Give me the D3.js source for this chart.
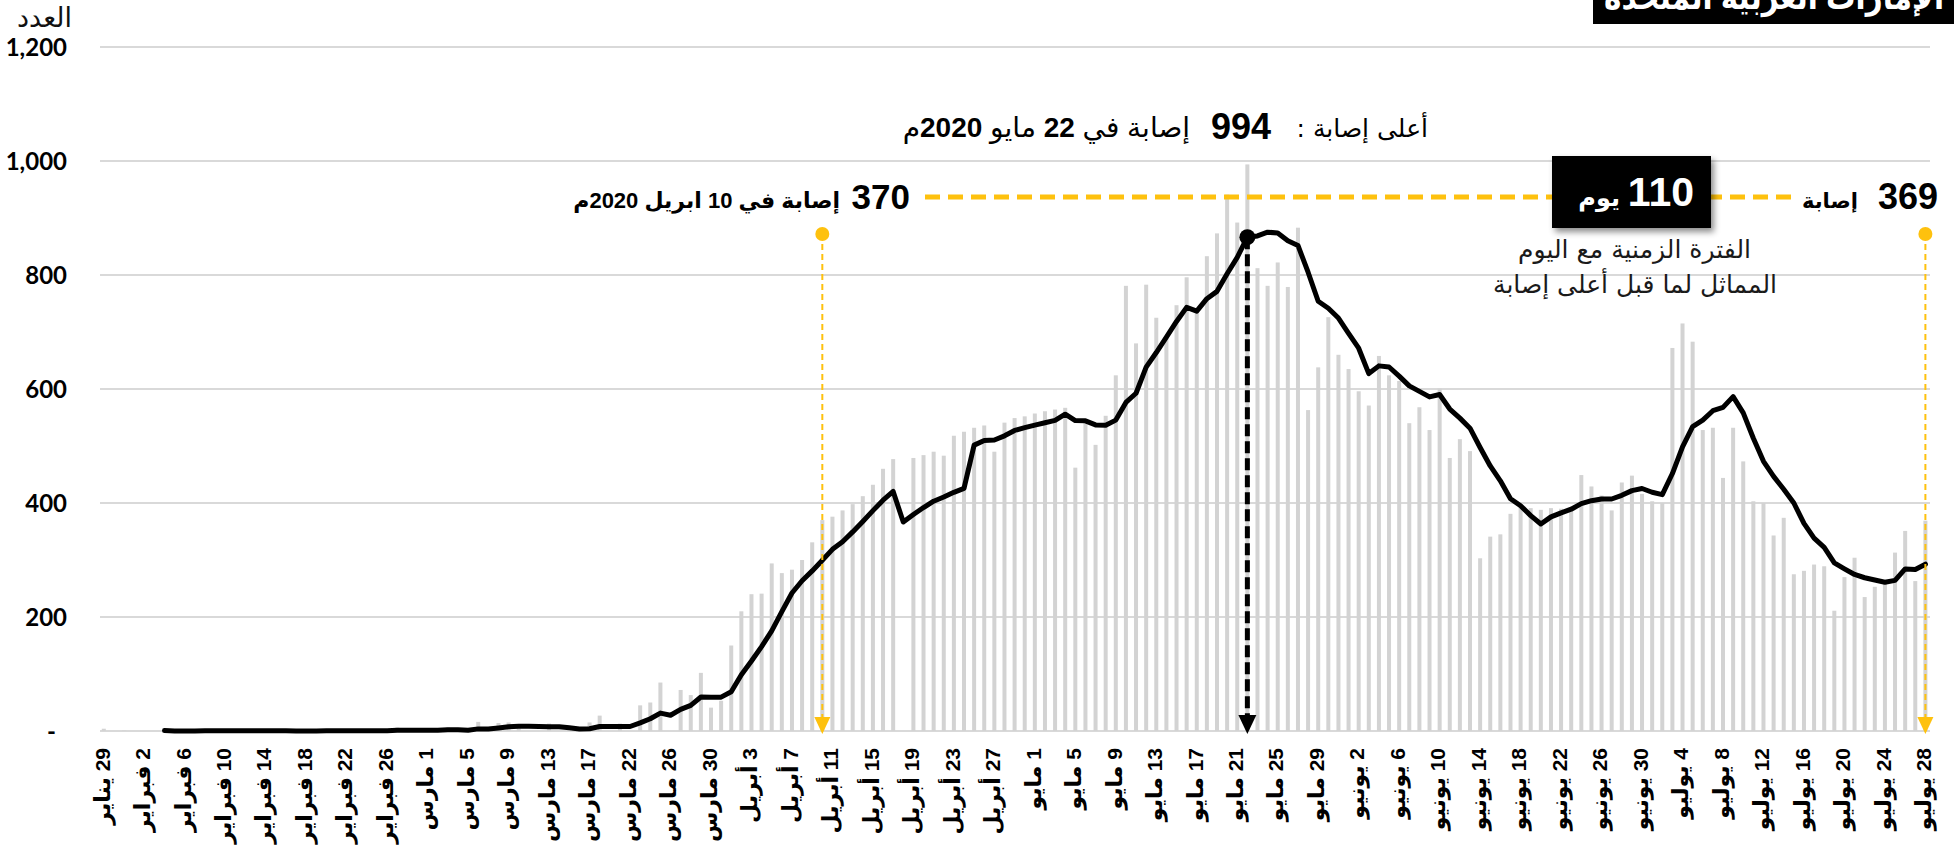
<!DOCTYPE html>
<html>
<head>
<meta charset="utf-8">
<script src="https://cdn.jsdelivr.net/npm/d3@7"></script>
<style>
body { margin: 0; background: #fff; overflow: hidden; }
text { font-family: "Liberation Sans", "DejaVu Sans", sans-serif; }
.ar { font-family: "DejaVu Sans", sans-serif; }
.num { font-family: Lato, "Open Sans", sans-serif; }
</style>
</head>
<body>
<script>
// daily new cases, 29 Jan - 28 Jul 2020 (one bar per reported day)
const cases = [
  4, 0, 1, 0, 0, 0, 0, 0, 0, 0, 2, 0, 1, 0, 0, 0, 0, 1, 0, 0,
  0, 0, 2, 0, 0, 2, 0, 0, 0, 6, 0, 2, 0, 0, 6, 0, 2, 16, 0, 14,
  15, 11, 0, 0, 13, 0, 0, 0, 15, 27, 0, 13, 0, 45, 50, 85, 0, 72, 63, 102,
  41, 53, 150, 210, 240, 241, 294, 277, 283, 300, 331, 370, 376, 387, 398, 412, 432, 460, 477, 0,
  479, 484, 490, 483, 518, 525, 532, 536, 490, 541, 549, 552, 557, 561, 564, 567, 462, 546, 502, 553,
  624, 781, 680, 783, 725, 690, 747, 796, 735, 833, 873, 941, 892, 994, 812, 781, 822, 779, 883, 563,
  638, 726, 660, 635, 596, 571, 658, 624, 614, 540, 568, 528, 601, 479, 512, 491, 303, 341, 345, 381,
  393, 391, 388, 391, 390, 390, 449, 429, 413, 387, 436, 448, 416, 403, 400, 672, 715, 683, 528, 532,
  444, 532, 473, 403, 400, 343, 374, 275, 281, 292, 289, 211, 270, 304, 235, 253, 264, 313, 351, 263,
  369
];

// one label every 4 bars: day, month
const tickDays = [
  29, 2, 6, 10, 14, 18, 22, 26, 1, 5, 9, 13, 17, 22, 26, 30,
  3, 7, 11, 15, 19, 23, 27, 1, 5, 9, 13, 17, 21, 25, 29,
  2, 6, 10, 14, 18, 22, 26, 30, 4, 8, 12, 16, 20, 24, 28
];
const tickMonths = [
  "يناير", "فبراير", "فبراير", "فبراير", "فبراير", "فبراير", "فبراير", "فبراير",
  "مارس", "مارس", "مارس", "مارس", "مارس", "مارس", "مارس", "مارس",
  "أبريل", "أبريل", "أبريل", "أبريل", "أبريل", "أبريل", "أبريل",
  "مايو", "مايو", "مايو", "مايو", "مايو", "مايو", "مايو", "مايو",
  "يونيو", "يونيو", "يونيو", "يونيو", "يونيو", "يونيو", "يونيو", "يونيو",
  "يوليو", "يوليو", "يوليو", "يوليو", "يوليو", "يوليو", "يوليو"
];
const tickStep = 4;

const yTicks = [0, 200, 400, 600, 800, 1000, 1200];

const peakIndex = 113;     // 22 مايو
const aprilIndex = 71;     // 10 ابريل
const lastIndex = 180;     // 28 يوليو

var width = 1954,
    height = 845;

const yellow = "#fec10e";

// 7-day average of the bars above (starts on the 7th day)
const avg7 = cases.map((v, i) => i < 6 ? null : d3.mean(cases.slice(i - 6, i + 1)));

let svg = d3.select("body")
  .append("svg")
  .attr("width", width)
  .attr("height", height);

let x = d3.scaleLinear()
  .domain([0, cases.length - 1])
  .range([103.8, 1925.4]);

let y = d3.scaleLinear()
  .domain([0, 1200])
  .range([731, 47]);

let defs = svg.append("defs");
defs.append("filter").attr("id", "shadow")
  .attr("x", "-20%").attr("y", "-20%").attr("width", "140%").attr("height", "150%")
  .append("feDropShadow")
  .attr("dx", 3).attr("dy", 4).attr("stdDeviation", 3)
  .attr("flood-color", "#000").attr("flood-opacity", 0.45);

// grid + y labels
let grid = svg.append("g").attr("id", "grid");
grid.selectAll("line")
  .data(yTicks)
  .enter()
  .append("line")
  .attr("x1", 100).attr("x2", 1930)
  .attr("y1", d => y(d)).attr("y2", d => y(d))
  .attr("stroke", "#d9d9d9")
  .attr("stroke-width", 2);

grid.selectAll("text")
  .data(yTicks)
  .enter()
  .append("text")
  .attr("class", "num")
  .attr("x", d => d === 0 ? 56 : 67)
  .attr("y", d => y(d))
  .attr("dy", "0.36em")
  .attr("text-anchor", "end")
  .attr("font-size", 24)
  .attr("font-weight", "bold")
  .attr("fill", "#000")
  .text(d => d === 0 ? "-" : d3.format(",")(d));

svg.append("text")
  .attr("class", "ar")
  .attr("x", 72).attr("y", 27)
  .attr("direction", "rtl")
  .attr("text-anchor", "start")
  .attr("font-size", 27)
  .attr("fill", "#111")
  .text("العدد");

// bars
svg.append("g").attr("id", "bars")
  .selectAll("rect")
  .data(cases)
  .enter()
  .append("rect")
  .attr("x", (d, i) => x(i) - 2)
  .attr("width", 4)
  .attr("y", d => y(d))
  .attr("height", d => y(0) - y(d))
  .attr("fill", "#d3d3d3");

// x labels
let xl = svg.append("g").attr("id", "xlabels")
  .selectAll("text")
  .data(tickDays)
  .enter()
  .append("text")
  .attr("transform", (d, i) => "translate(" + x(i * tickStep) + ",748) rotate(-90)")
  .attr("dy", "0.36em")
  .attr("direction", "rtl")
  .attr("text-anchor", "start")
  .attr("font-weight", "bold")
  .attr("fill", "#000");
xl.append("tspan").attr("font-size", 21).text(d => d + " ");
xl.append("tspan").attr("font-size", 22).text((d, i) => tickMonths[i]);

// average line
let line = d3.line()
  .defined(d => d != null)
  .x((d, i) => x(i))
  .y(d => y(d));

svg.append("path")
  .datum(avg7)
  .attr("d", line)
  .attr("fill", "none")
  .attr("stroke", "#000")
  .attr("stroke-width", 5)
  .attr("stroke-linejoin", "round")
  .attr("stroke-linecap", "round");

// annotations
let notes = svg.append("g").attr("id", "notes");
const bandY = 197, dotY = 234;

notes.append("line")
  .attr("x1", 925).attr("x2", 1792)
  .attr("y1", bandY).attr("y2", bandY)
  .attr("stroke", yellow).attr("stroke-width", 5)
  .attr("stroke-dasharray", "15 8");

function arrowDown(xp, y1, color, sw, dash, size) {
  notes.append("line")
    .attr("x1", xp).attr("x2", xp)
    .attr("y1", y1).attr("y2", y(0) - size + 2)
    .attr("stroke", color).attr("stroke-width", sw)
    .attr("stroke-dasharray", dash);
  notes.append("path")
    .attr("d", "M" + (xp - size / 2) + "," + (y(0) - size + 2) + "L" + (xp + size / 2) + "," + (y(0) - size + 2) + "L" + xp + "," + (y(0) + 3) + "Z")
    .attr("fill", color);
}

arrowDown(x(aprilIndex), dotY, yellow, 2, "6 4", 16);
arrowDown(x(lastIndex), dotY, yellow, 2, "6 4", 16);
notes.selectAll(".ydot")
  .data([aprilIndex, lastIndex])
  .enter()
  .append("circle")
  .attr("cx", d => x(d)).attr("cy", dotY).attr("r", 7)
  .attr("fill", yellow);

arrowDown(x(peakIndex), y(avg7[peakIndex]), "#000", 5, "12 5", 18);
notes.append("circle")
  .attr("cx", x(peakIndex)).attr("cy", y(avg7[peakIndex])).attr("r", 8)
  .attr("fill", "#000");

function label(str, xp, yp, size, bold, cls, color) {
  return notes.append("text")
    .attr("class", cls || null)
    .attr("x", xp).attr("y", yp)
    .attr("direction", "rtl")
    .attr("text-anchor", "start")
    .attr("font-size", size)
    .attr("font-weight", bold ? "bold" : "normal")
    .attr("fill", color || "#000")
    .text(str);
}

// peak
label("أعلى إصابة :", 1428, 137, 25, false, "ar");
label(cases[peakIndex], 1271, 139, 36, true);
let peakDate = label("", 1190, 137, 28, false);
[["إصابة في ", false], ["22", true], [" مايو ", false], ["2020", true], ["م", false]].forEach(p => {
  peakDate.append("tspan").attr("font-weight", p[1] ? "bold" : "normal").text(p[0]);
});

// 10 April
label(cases[aprilIndex], 910, 209, 35, true);
label("إصابة في 10 ابريل 2020م", 840, 208, 22, true);

// 28 July
label(cases[lastIndex], 1938, 209, 36, true);
label("إصابة", 1858, 208, 21, true);

// 110 days box
notes.append("rect")
  .attr("x", 1552).attr("y", 156).attr("width", 159).attr("height", 72)
  .attr("fill", "#000")
  .attr("filter", "url(#shadow)");
label(peakIndex - 3, 1694, 206, 41, true, null, "#fff");
label("يوم", 1620, 206, 24, true, null, "#fff");

label("الفترة الزمنية مع اليوم", 1751, 258, 25, false, "ar", "#1a1a1a");
label("المماثل لما قبل أعلى إصابة", 1777, 293, 25, false, "ar", "#1a1a1a");

// title strip (cut at the top edge)
svg.append("rect")
  .attr("x", 1593).attr("y", 0).attr("width", 361).attr("height", 24)
  .attr("fill", "#000");
svg.append("text")
  .attr("x", 1944).attr("y", 9)
  .attr("direction", "rtl")
  .attr("text-anchor", "start")
  .attr("font-size", 34)
  .attr("font-weight", "bold")
  .attr("fill", "#fff")
  .attr("textLength", 340)
  .attr("lengthAdjust", "spacingAndGlyphs")
  .text("الإمارات العربية المتحدة");
</script>
</body>
</html>
